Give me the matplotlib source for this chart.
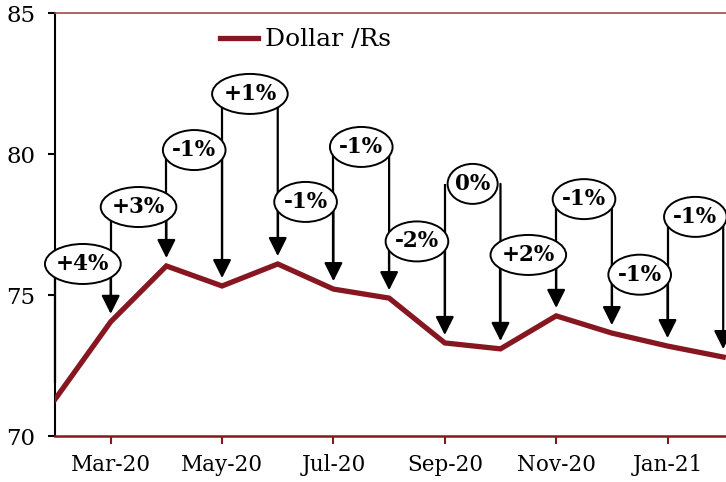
import matplotlib
matplotlib.use('Agg')
import matplotlib.pyplot as plt
from matplotlib.patches import Ellipse

plt.rcParams['font.family'] = 'DejaVu Serif'

# monthly Dollar/Rs rate
months = ['Feb-20', 'Mar-20', 'Apr-20', 'May-20', 'Jun-20', 'Jul-20', 'Aug-20',
          'Sep-20', 'Oct-20', 'Nov-20', 'Dec-20', 'Jan-21', 'Feb-21']
rate = [71.3, 74.05, 76.03, 75.32, 76.1, 75.21, 74.89,
        73.3, 73.09, 74.26, 73.65, 73.19, 72.8]

# month-on-month change labels and the height of each bubble
changes = ['+4%', '+3%', '-1%', '+1%', '-1%', '-1%', '-2%', '0%', '+2%', '-1%', '-1%', '-1%']
bubble_y = [76.1, 78.12, 80.14, 82.13, 78.3, 80.25, 76.9, 78.94, 76.42, 78.4, 75.72, 77.77]

red = '#861620'

fig = plt.figure(figsize=(7.26, 4.82), dpi=100)
ax = fig.add_axes([55 / 726, 46 / 482, 1 - 55 / 726, 423 / 482])

x = list(range(len(months)))
ax.plot(x, rate, color=red, lw=3.8, solid_joinstyle='miter', zorder=3, label='Dollar /Rs')

ax.set_xlim(0, 12.05)
ax.set_ylim(70, 85)
ax.set_yticks([70, 75, 80, 85])
ax.set_xticks(x[1::2])
ax.set_xticklabels(months[1::2])

ax.spines['left'].set_color('black')
ax.spines['left'].set_linewidth(1.5)
ax.spines['bottom'].set_color(red)
ax.spines['bottom'].set_linewidth(1.8)
ax.spines['top'].set_color('#a24a4a')
ax.spines['top'].set_linewidth(1.2)
ax.spines['right'].set_visible(False)
ax.tick_params(axis='y', colors='black', length=5, width=1.5, pad=9, labelsize=16.5)
ax.tick_params(axis='x', color=red, length=6, width=1.5, pad=7, labelsize=15.5, labelcolor='black')

gap = 0.28
labels = []
for i, (lab, ly) in enumerate(zip(changes, bubble_y)):
    x0, x1 = i, i + 1
    # left leg plain, right leg arrow down to the month point
    ax.plot([x0, x0], [ly, rate[x0] + gap + 0.3], color='black', lw=1.6, zorder=4,
            solid_capstyle='butt', clip_on=False)
    ax.annotate('', xy=(x1, rate[x1] + gap), xytext=(x1, ly),
                arrowprops=dict(arrowstyle='-|>', lw=1.6, color='black',
                                mutation_scale=28, shrinkA=0, shrinkB=0),
                zorder=4, annotation_clip=False)
    t = ax.text((x0 + x1) / 2, ly, lab, ha='center', va='center', fontsize=15.5,
                fontweight='bold', zorder=7)
    labels.append(t)

fig.canvas.draw()
renderer = fig.canvas.get_renderer()
px_per_month = ax.transData.transform((1, 0))[0] - ax.transData.transform((0, 0))[0]
px_per_unit = ax.transData.transform((0, 1))[1] - ax.transData.transform((0, 0))[1]
for t in labels:
    w = t.get_window_extent(renderer).width * 1.42 / px_per_month
    h = 40 / px_per_unit
    cx, cy = t.get_position()
    ax.add_patch(Ellipse((cx, cy), w, h, facecolor='white', edgecolor='black',
                         lw=1.4, zorder=6, clip_on=False))

ax.legend(loc='center left', bbox_to_anchor=((220 - 55) / 671, (436 - 40) / 423),
          frameon=False, fontsize=18, handlelength=1.5, handletextpad=0.3,
          borderpad=0, borderaxespad=0)

fig.savefig('out.png', dpi=100)
